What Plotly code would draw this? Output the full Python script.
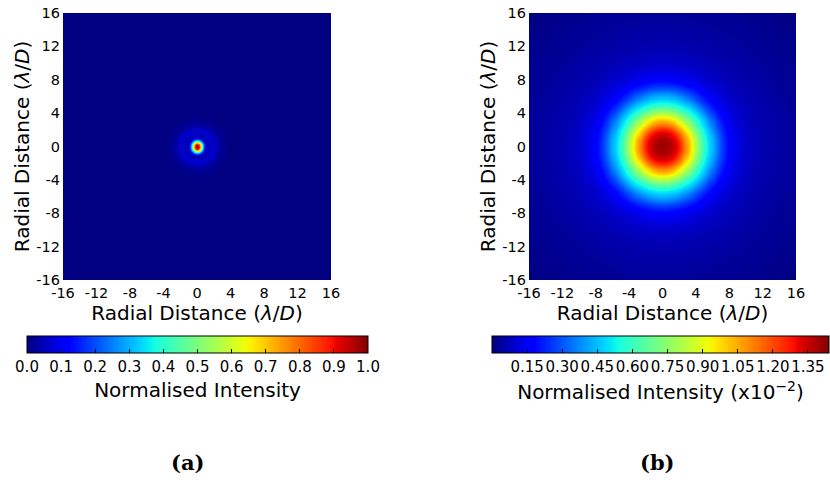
import numpy as np
import plotly.graph_objects as go

# ---- data ----
# (a) normalised intensity radial profile (lambda/D vs intensity)
r_a = [0.0, 0.25, 0.5, 0.7, 0.95, 1.2, 1.45, 1.75, 2.05, 2.4, 2.8, 3.3, 4.0, 30.0]
v_a = [1.0, 0.88, 0.60, 0.35, 0.12, 0.03, 0.05, 0.07, 0.065, 0.04, 0.02, 0.01, 0.0, 0.0]
# (b) normalised intensity (x1e-2) radial profile
r_b = [0.0, 1.0, 2.0, 3.0, 4.0, 5.0, 6.0, 7.0, 8.0, 9.0, 10.0, 11.0, 12.0, 14.0, 16.0, 20.0, 23.0]
v_b = [1.41, 1.38, 1.28, 1.05, 0.80, 0.58, 0.43, 0.28, 0.17, 0.12, 0.09, 0.072, 0.06, 0.045, 0.03, 0.015, 0.0]
ticks_xy = [-16, -12, -8, -4, 0, 4, 8, 12, 16]
tick_labels_xy = ["-16", "-12", "-8", "-4", "0", "4", "8", "12", "16"]
cb_a_ticks = [0.0, 0.1, 0.2, 0.3, 0.4, 0.5, 0.6, 0.7, 0.8, 0.9, 1.0]
cb_b_ticks = [0.15, 0.30, 0.45, 0.60, 0.75, 0.90, 1.05, 1.20, 1.35]
cb_b_max = 1.44

# grids
xa = np.linspace(-16, 16, 257)
Xa, Ya = np.meshgrid(xa, xa)
za = np.interp(np.hypot(Xa, Ya), r_a, v_a)
xb = np.linspace(-16, 16, 129)
Xb, Yb = np.meshgrid(xb, xb)
zb = np.interp(np.hypot(Xb, Yb), r_b, v_b)

# matplotlib jet colourscale
red = [(0, 0), (0.35, 0), (0.66, 1), (0.89, 1), (1, 0.5)]
green = [(0, 0), (0.125, 0), (0.375, 1), (0.64, 1), (0.91, 0), (1, 0)]
blue = [(0, 0.5), (0.11, 1), (0.34, 1), (0.65, 0), (1, 0)]
stops = sorted(set([p for p, _ in red + green + blue]))
def ch(seg, s):
    return np.interp(s, [p for p, _ in seg], [v for _, v in seg])
jet = [[s, "rgb(%d,%d,%d)" % (round(255 * ch(red, s)), round(255 * ch(green, s)), round(255 * ch(blue, s)))] for s in stops]

FONT = "DejaVu Sans"
W, H = 830, 484

def px_x(p):
    return p / W
def px_y(p):
    return 1 - p / H

cb_tickfont = dict(family=FONT, size=15, color="black")
cb_titlefont = dict(family=FONT, size=20, color="black")

fig = go.Figure()
fig.add_trace(go.Heatmap(
    x=xa, y=xa, z=za, colorscale=jet, zmin=0, zmax=1, zsmooth="best",
    xaxis="x", yaxis="y", hoverinfo="skip",
    colorbar=dict(
        orientation="h", x=px_x(197.5), xanchor="center", y=px_y(336), yanchor="top",
        lenmode="pixels", len=341, thickness=17, thicknessmode="pixels",
        outlinecolor="black", outlinewidth=1,
        tickvals=cb_a_ticks, ticktext=["%.1f" % t for t in cb_a_ticks],
        ticks="inside", ticklen=4, tickcolor="black", tickangle=0,
        tickfont=cb_tickfont,
        title=dict(text="Normalised Intensity", side="bottom", font=cb_titlefont),
        xpad=0, ypad=0,
    ),
))
fig.add_trace(go.Heatmap(
    x=xb, y=xb, z=zb, colorscale=jet, zmin=0, zmax=cb_b_max, zsmooth="best",
    xaxis="x2", yaxis="y2", hoverinfo="skip",
    colorbar=dict(
        orientation="h", x=px_x(660.5), xanchor="center", y=px_y(336), yanchor="top",
        lenmode="pixels", len=337, thickness=17, thicknessmode="pixels",
        outlinecolor="black", outlinewidth=1,
        tickvals=cb_b_ticks, ticktext=["%.2f" % t for t in cb_b_ticks],
        ticks="inside", ticklen=4, tickcolor="black", tickangle=0,
        tickfont=cb_tickfont,
        title=dict(text="Normalised Intensity (x10<sup>−2</sup>)", side="bottom", font=cb_titlefont),
        xpad=0, ypad=0,
    ),
))

axis_common = dict(range=[-16, 16], tickvals=ticks_xy, ticktext=tick_labels_xy, ticks="",
                   showgrid=False, zeroline=False, showline=False, automargin=False,
                   tickfont=dict(family=FONT, size=14.5, color="black"),
                   ticklabelstandoff=2)
title_txt = "Radial Distance (<i>λ</i>/<i>D</i>)"
tfont = dict(family=FONT, size=20, color="black")
fig.update_layout(
    width=W, height=H, margin=dict(l=0, r=0, t=0, b=0, autoexpand=False),
    paper_bgcolor="white", plot_bgcolor="white",
    font=dict(family=FONT, color="black"),
    xaxis=dict(domain=[px_x(63), px_x(331)], anchor="y", title=dict(text=title_txt, font=tfont, standoff=3), **axis_common),
    yaxis=dict(domain=[px_y(280), px_y(13)], anchor="x", title=dict(text=title_txt, font=tfont, standoff=1), **axis_common),
    xaxis2=dict(domain=[px_x(529), px_x(796)], anchor="y2", title=dict(text=title_txt, font=tfont, standoff=3), **axis_common),
    yaxis2=dict(domain=[px_y(280), px_y(13)], anchor="x2", title=dict(text=title_txt, font=tfont, standoff=1), **axis_common),
    showlegend=False,
)
for txt, xp in [("(a)", 187), ("(b)", 657)]:
    fig.add_annotation(text="<b>%s</b>" % txt, x=px_x(xp), y=px_y(462), xref="paper", yref="paper",
                       showarrow=False, font=dict(family="DejaVu Serif", size=21, color="black"),
                       xanchor="center", yanchor="middle")

fig.write_html("out.html")
